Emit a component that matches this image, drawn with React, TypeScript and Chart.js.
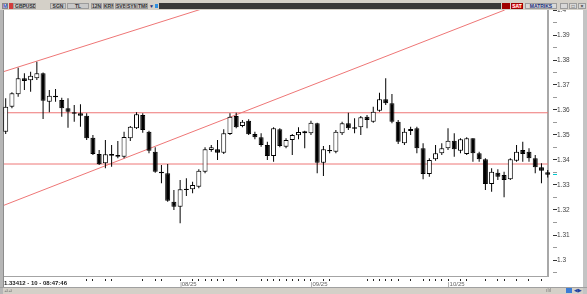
import React, { useEffect, useRef } from 'react';
import { Chart, registerables } from 'chart.js';

Chart.register(...registerables);

// ---- Data (GBPUSD daily candles) ----
const OPEN = [
  1.3513, 1.3613, 1.3663, 1.3727, 1.3719, 1.3727, 1.3747, 1.3633, 1.3657, 1.3640,
  1.3607, 1.3591, 1.3587, 1.3577, 1.3489, 1.3424, 1.3387, 1.3424, 1.3413, 1.3413,
  1.3487, 1.3527, 1.3580, 1.3513, 1.3433, 1.3353, 1.3347, 1.3233, 1.3213, 1.3280,
  1.3283, 1.3293, 1.3353, 1.3440, 1.3443, 1.3429, 1.3504, 1.3576, 1.3536, 1.3557,
  1.3504, 1.3491, 1.3460, 1.3416, 1.3523, 1.3453, 1.3480, 1.3499, 1.3515, 1.3507,
  1.3547, 1.3389, 1.3435, 1.3433, 1.3507, 1.3547, 1.3531, 1.3531, 1.3573, 1.3553,
  1.3597, 1.3643, 1.3627, 1.3553, 1.3467, 1.3516, 1.3527, 1.3447, 1.3344, 1.3403,
  1.3427, 1.3447, 1.3477, 1.3437, 1.3424, 1.3487, 1.3427, 1.3403, 1.3304, 1.3349,
  1.3340, 1.3323, 1.3397, 1.3440, 1.3433, 1.3407, 1.3371, 1.3351,
];
const HIGH = [
  1.3647, 1.3671, 1.3769, 1.3747, 1.3753, 1.3793, 1.3750, 1.3680, 1.3684, 1.3649,
  1.3647, 1.3620, 1.3623, 1.3587, 1.3500, 1.3440, 1.3480, 1.3460, 1.3476, 1.3513,
  1.3536, 1.3591, 1.3587, 1.3517, 1.3451, 1.3380, 1.3384, 1.3280, 1.3320, 1.3327,
  1.3313, 1.3363, 1.3451, 1.3460, 1.3480, 1.3523, 1.3587, 1.3589, 1.3560, 1.3563,
  1.3513, 1.3507, 1.3473, 1.3531, 1.3527, 1.3487, 1.3504, 1.3531, 1.3517, 1.3557,
  1.3549, 1.3456, 1.3460, 1.3520, 1.3553, 1.3589, 1.3567, 1.3576, 1.3580, 1.3613,
  1.3669, 1.3727, 1.3664, 1.3560, 1.3527, 1.3533, 1.3533, 1.3467, 1.3407, 1.3460,
  1.3467, 1.3527, 1.3507, 1.3487, 1.3491, 1.3487, 1.3433, 1.3407, 1.3367, 1.3363,
  1.3353, 1.3407, 1.3460, 1.3473, 1.3447, 1.3420, 1.3387, 1.3360,
];
const LOW = [
  1.3504, 1.3607, 1.3653, 1.3680, 1.3673, 1.3720, 1.3564, 1.3591, 1.3633, 1.3573,
  1.3529, 1.3553, 1.3533, 1.3480, 1.3420, 1.3380, 1.3367, 1.3373, 1.3407, 1.3407,
  1.3476, 1.3524, 1.3509, 1.3427, 1.3349, 1.3307, 1.3233, 1.3200, 1.3147, 1.3256,
  1.3267, 1.3287, 1.3347, 1.3433, 1.3400, 1.3424, 1.3500, 1.3527, 1.3531, 1.3500,
  1.3483, 1.3453, 1.3400, 1.3393, 1.3451, 1.3447, 1.3420, 1.3483, 1.3447, 1.3500,
  1.3347, 1.3336, 1.3427, 1.3427, 1.3500, 1.3520, 1.3507, 1.3500, 1.3527, 1.3549,
  1.3593, 1.3620, 1.3547, 1.3464, 1.3460, 1.3500, 1.3427, 1.3323, 1.3333, 1.3397,
  1.3420, 1.3440, 1.3413, 1.3427, 1.3420, 1.3393, 1.3393, 1.3280, 1.3273, 1.3320,
  1.3251, 1.3320, 1.3393, 1.3393, 1.3393, 1.3347, 1.3307, 1.3330,
];
const CLOSE = [
  1.3613, 1.3667, 1.3727, 1.3716, 1.3737, 1.3747, 1.3637, 1.3657, 1.3651, 1.3607,
  1.3593, 1.3585, 1.3577, 1.3487, 1.3424, 1.3383, 1.3423, 1.3417, 1.3420, 1.3492,
  1.3533, 1.3583, 1.3520, 1.3437, 1.3353, 1.3347, 1.3237, 1.3213, 1.3283, 1.3285,
  1.3300, 1.3357, 1.3443, 1.3451, 1.3429, 1.3507, 1.3573, 1.3531, 1.3553, 1.3503,
  1.3491, 1.3460, 1.3416, 1.3527, 1.3456, 1.3480, 1.3500, 1.3512, 1.3507, 1.3549,
  1.3389, 1.3443, 1.3440, 1.3513, 1.3547, 1.3527, 1.3525, 1.3571, 1.3560, 1.3593,
  1.3643, 1.3627, 1.3553, 1.3473, 1.3513, 1.3524, 1.3447, 1.3344, 1.3400, 1.3427,
  1.3447, 1.3477, 1.3443, 1.3483, 1.3487, 1.3427, 1.3403, 1.3304, 1.3353, 1.3333,
  1.3320, 1.3403, 1.3433, 1.3424, 1.3407, 1.3371, 1.3357, 1.3341,
];

const LEVELS = [1.3589, 1.3384];
const TREND_UPPER = [{ x: -0.273, y: 1.3754 }, { x: 31.2, y: 1.4002 }];
const TREND_LOWER = [{ x: -0.273, y: 1.3219 }, { x: 80.1, y: 1.4 }];

const MONTH_TICKS = [28, 49, 71];
const MONTH_LABELS = ['|08/25', '|09/25', '|10/25'];
const MARKER_TICKS = [13, 14, 16, 17, 22, 24, 25, 30, 31, 32, 33, 34, 35, 37, 41, 42, 43, 44, 45, 46, 47, 48,
  51, 52, 58, 59, 60, 61, 62, 63, 65, 67, 68, 69, 70, 73, 74, 77, 79, 80, 82, 84, 86];
const LAST_PRICE = 1.33412;
const Y_STEP = 0.005;

const X_MIN = -0.273;
const X_MAX = 87.05;
const Y_MIN = 1.2936;
const Y_MAX = 1.4;

const LINE_RED = '#ee7676';
const FONT = '"Liberation Sans", Arial, sans-serif';

const isMajor = (v: number) => Math.abs(Math.round(v * 100) - v * 100) < 1e-6;

export default function App() {
  const ref = useRef<HTMLCanvasElement>(null);

  useEffect(() => {
    const canvas = ref.current;
    if (!canvas) return;
    const lineDs = (data: { x: number; y: number }[]) => ({
      type: 'line' as const,
      data,
      borderColor: LINE_RED,
      borderWidth: 1,
      pointRadius: 0,
      fill: false,
      tension: 0,
      order: 2,
    });
    const chart = new Chart(canvas, {
      type: 'bar',
      data: {
        datasets: [
          {
            type: 'bar',
            data: OPEN.map((o, i) => ({ x: i, y: [o, CLOSE[i]] })) as any,
            backgroundColor: OPEN.map((o, i) => (CLOSE[i] >= o ? '#ffffff' : '#000000')),
            borderColor: '#000000',
            borderWidth: 1,
            borderSkipped: false,
            barThickness: 5,
            grouped: false,
            inflateAmount: 0,
            clip: false as any,
            order: 0,
          },
          {
            type: 'bar',
            data: LOW.map((l, i) => ({ x: i, y: [l, HIGH[i]] })) as any,
            backgroundColor: '#000000',
            borderWidth: 0,
            barThickness: 1,
            grouped: false,
            inflateAmount: 0,
            clip: false as any,
            order: 1,
          },
          lineDs(LEVELS.map(() => ({ x: X_MIN, y: 0 })).length ? [{ x: X_MIN, y: LEVELS[0] }, { x: X_MAX, y: LEVELS[0] }] : []) as any,
          lineDs([{ x: X_MIN, y: LEVELS[1] }, { x: X_MAX, y: LEVELS[1] }]) as any,
          lineDs(TREND_UPPER) as any,
          lineDs(TREND_LOWER) as any,
        ],
      },
      options: {
        animation: false,
        responsive: false,
        maintainAspectRatio: false,
        devicePixelRatio: 1,
        layout: { padding: { left: 4, top: 10, right: 0, bottom: 7 } },
        plugins: { legend: { display: false }, tooltip: { enabled: false } },
        scales: {
          x: {
            type: 'linear',
            min: X_MIN,
            max: X_MAX,
            offset: false,
            grid: {
              display: true,
              drawOnChartArea: false,
              drawTicks: true,
              tickLength: 5,
              tickColor: '#222',
              tickWidth: 1,
              tickBorderDash: [0, 2, 2, 20],
              offset: false,
            },
            border: { display: true, color: '#a4a4a4', width: 1 },
            ticks: {
              autoSkip: false,
              maxRotation: 0,
              minRotation: 0,
              align: 'start',
              padding: 0,
              color: '#666',
              font: { size: 6, family: FONT },
              callback: (v: any) => {
                const k = MONTH_TICKS.indexOf(Number(v));
                return k >= 0 ? MONTH_LABELS[k] : '';
              },
            },
            afterBuildTicks: (scale: any) => {
              const vals = [...MARKER_TICKS, ...MONTH_TICKS].sort((a, b) => a - b);
              scale.ticks = vals.map((v) => ({ value: v }));
            },
            afterFit: (scale: any) => {
              scale.height = 11;
            },
          },
          y: {
            type: 'linear',
            position: 'right',
            min: Y_MIN,
            max: Y_MAX,
            grid: {
              display: true,
              drawOnChartArea: false,
              drawTicks: true,
              tickLength: 9,
              tickWidth: 1,
              tickBorderDash: [0, 4, 4, 40],
              tickColor: (ctx: any) => {
                const v = ctx.tick ? ctx.tick.value : 0;
                if (Math.abs(v - LAST_PRICE) < 1e-7) return '#00c8d0';
                return isMajor(v) ? '#333' : '#9a9a9a';
              },
            },
            border: { display: true, color: '#a8a8a8', width: 2 },
            ticks: {
              stepSize: Y_STEP,
              includeBounds: false,
              autoSkip: false,
              padding: 0,
              color: '#444',
              font: { size: 6.5, family: FONT },
              callback: (v: any) => {
                const n = Number(v);
                if (Math.abs(n - LAST_PRICE) < 1e-7) return '';
                return isMajor(n) ? String(Math.round(n * 100) / 100) : '';
              },
            },
            afterBuildTicks: (scale: any) => {
              scale.ticks.push({ value: LAST_PRICE });
              scale.ticks.sort((a: any, b: any) => a.value - b.value);
            },
            afterFit: (scale: any) => {
              scale.width = 39;
            },
          },
        },
      } as any,
    });
    return () => chart.destroy();
  }, []);

  const box = (left: number, width: number, text: string, extra: any = {}) => (
    <div
      style={{
        position: 'absolute',
        left,
        top: 3,
        width,
        height: 6,
        boxSizing: 'border-box',
        border: '1px solid #9c9c9c',
        background: '#c9c9c9',
        fontSize: 5,
        lineHeight: '4px',
        textAlign: 'center',
        color: '#333',
        fontWeight: 'bold',
        overflow: 'hidden',
        whiteSpace: 'nowrap',
        ...extra,
      }}
    >
      {text}
    </div>
  );

  return (
    <div
      style={{
        position: 'relative',
        width: 587,
        height: 294,
        background: '#d4d0c8',
        overflow: 'hidden',
        fontFamily: FONT,
      }}
    >
      <style>{'body{margin:0}'}</style>
      {/* white chart panel */}
      <div style={{ position: 'absolute', left: 4, top: 10, width: 579, height: 277, background: '#ffffff' }} />
      {/* left frame */}
      <div style={{ position: 'absolute', left: 0, top: 10, width: 3, height: 284, background: '#b6b6b6' }} />
      <div style={{ position: 'absolute', left: 3, top: 10, width: 1, height: 277, background: '#8c8c8c' }} />
      {/* right frame */}
      <div style={{ position: 'absolute', left: 583, top: 10, width: 4, height: 284, background: '#c4c4c4' }} />
      {/* bottom frame line */}
      <div style={{ position: 'absolute', left: 0, top: 287, width: 587, height: 1, background: '#a0a0a0' }} />

      <canvas
        ref={ref}
        width={587}
        height={294}
        style={{ position: 'absolute', left: 0, top: 0, width: 587, height: 294 }}
      />

      {/* bottom-left status text */}
      <div
        style={{
          position: 'absolute',
          left: 4,
          top: 279.5,
          fontSize: 6,
          fontWeight: 'bold',
          color: '#222',
          whiteSpace: 'nowrap',
          lineHeight: '7px',
        }}
      >
        1.33412 - 10 - 08:47:46
      </div>
      {/* bottom strip icons */}
      <div style={{ position: 'absolute', left: 4, top: 288, fontSize: 5, color: '#777', lineHeight: '5px' }}>⊿⊿</div>
      <div style={{ position: 'absolute', left: 546, top: 288, fontSize: 5, color: '#777', lineHeight: '5px' }}>ılıl</div>
      <div style={{ position: 'absolute', left: 566, top: 288, width: 6, height: 5, background: '#3a7bd5' }} />
      <div style={{ position: 'absolute', left: 574, top: 287, fontSize: 5, color: '#1f3f9f', lineHeight: '6px' }}>◀▶</div>

      {/* top toolbar */}
      <div style={{ position: 'absolute', left: 0, top: 0, width: 587, height: 10, background: '#d4d0c8', zIndex: 2 }}>
        <div
          style={{
            position: 'absolute',
            left: 2,
            top: 3,
            width: 6,
            height: 6,
            background: '#ffffff',
            border: '1px solid #888',
            boxSizing: 'border-box',
            fontSize: 5,
            lineHeight: '4px',
            color: '#1c3fa8',
            fontWeight: 'bold',
            textAlign: 'center',
          }}
        >
          M
        </div>
        <div style={{ position: 'absolute', left: 9, top: 3, width: 4, height: 6, background: '#d23b3b' }} />
        {box(13, 23, 'GBPUSD', { textAlign: 'left', paddingLeft: 1 })}
        {box(50, 16, 'SGN')}
        {box(67, 22, 'TL')}
        {box(91, 11, '12N')}
        {box(103, 11, 'KRN')}
        {box(115, 11, 'SVB')}
        {box(126, 11, 'SYM')}
        {box(137, 11, 'TMP')}
        <div style={{ position: 'absolute', left: 149, top: 3, fontSize: 5, lineHeight: '6px', color: '#1c2f7a' }}>▼</div>
        <div style={{ position: 'absolute', left: 155, top: 4, width: 3, height: 4, background: '#2f8fe0' }} />
        <div style={{ position: 'absolute', left: 159, top: 3, width: 342, height: 6, background: '#383838' }} />
        <div style={{ position: 'absolute', left: 502, top: 3, width: 8, height: 6, background: '#a00000' }} />
        {box(511, 12, 'SAT', { background: '#e01010', color: '#ffffff', border: '1px solid #a00000' })}
        {box(525, 32, 'MATRIKS', { background: '#d8d8d8', color: '#1c2f7a' })}
        {box(560, 8, '_', { background: '#d8d8d8' })}
        {box(569, 8, '□', { background: '#d8d8d8' })}
        {box(578, 8, '×', { background: '#d8d8d8' })}
      </div>
    </div>
  );
}
